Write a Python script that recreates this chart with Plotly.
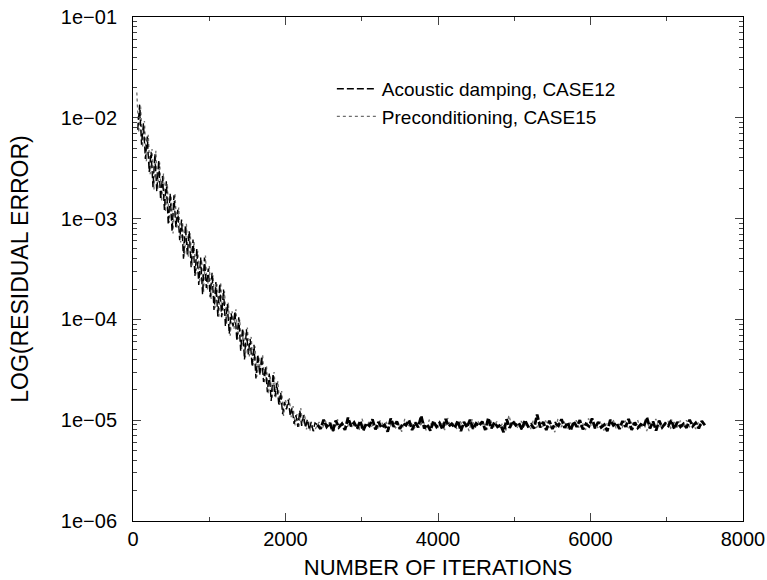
import numpy as np
import plotly.graph_objects as go

# ---------------- data ----------------
# decay phase, Preconditioning CASE15 (sampled every 25 iterations from 50)
pre_decay_start, pre_decay_step = 50, 25
pre_decay = [
    1.78e-2, 7.1e-3, 1.29e-2, 5.1e-3, 9.3e-3, 3.7e-3, 6.8e-3, 2.75e-3, 4.9e-3, 1.95e-3,
    4.7e-3, 1.95e-3, 3.6e-3, 1.48e-3, 2.8e-3, 1.17e-3, 2.24e-3, 9.1e-4, 1.70e-3, 7.1e-4,
    1.78e-3, 7.9e-4, 1.29e-3, 5.8e-4, 9.3e-4, 4.2e-4, 8.9e-4, 4.2e-4, 7.2e-4, 3.4e-4,
    5.9e-4, 2.8e-4, 4.8e-4, 2.3e-4, 3.9e-4, 1.86e-4, 4.3e-4, 1.95e-4, 3.4e-4, 1.59e-4,
    2.75e-4, 1.29e-4, 2.24e-4, 1.03e-4, 2.34e-4, 1.10e-4, 1.90e-4, 8.9e-5, 1.48e-4, 6.9e-5,
    1.20e-4, 8.1e-5, 1.26e-4, 6.4e-5, 1.0e-4, 5.1e-5, 7.9e-5, 4.2e-5, 8.3e-5, 4.3e-5,
    6.7e-5, 3.5e-5, 5.4e-5, 2.7e-5, 4.3e-5, 2.9e-5, 4.5e-5, 2.3e-5, 3.5e-5, 1.82e-5,
    2.8e-5, 1.62e-5, 3.0e-5, 1.66e-5, 2.45e-5, 1.38e-5, 1.95e-5, 1.10e-5, 1.58e-5, 1.32e-5,
    1.66e-5, 1.07e-5, 1.38e-5, 8.9e-6, 1.15e-5, 8.3e-6, 1.32e-5, 9.1e-6, 1.15e-5, 8.1e-6,
    1.0e-5, 7.9e-6, 8.9e-6, 7.7e-6,
]
# decay phase, Acoustic damping CASE12 (sampled every 25 iterations from 62)
ac_decay_start, ac_decay_step = 62, 25
ac_decay = [
    7.6e-3, 1.35e-2, 5.4e-3, 8.8e-3, 3.9e-3, 6.5e-3, 2.9e-3, 4.6e-3, 2.05e-3, 4.4e-3,
    1.85e-3, 3.8e-3, 1.55e-3, 2.65e-3, 1.22e-3, 2.35e-3, 8.7e-4, 1.78e-3, 7.4e-4, 1.70e-3,
    8.2e-4, 1.22e-3, 6.1e-4, 9.8e-4, 4.0e-4, 8.5e-4, 4.4e-4, 7.5e-4, 3.3e-4, 6.2e-4,
    2.7e-4, 5.0e-4, 2.2e-4, 4.1e-4, 1.78e-4, 4.1e-4, 2.05e-4, 3.2e-4, 1.66e-4, 2.9e-4,
    1.24e-4, 2.35e-4, 1.07e-4, 2.25e-4, 1.05e-4, 1.98e-4, 8.5e-5, 1.42e-4, 7.2e-5, 1.15e-4,
    8.5e-5, 1.20e-4, 6.1e-5, 1.05e-4, 4.9e-5, 8.2e-5, 4.0e-5, 8.0e-5, 4.5e-5, 6.4e-5,
    3.4e-5, 5.6e-5, 2.6e-5, 4.5e-5, 2.8e-5, 4.3e-5, 2.4e-5, 3.4e-5, 1.9e-5, 2.9e-5,
    1.55e-5, 2.9e-5, 1.72e-5, 2.35e-5, 1.42e-5, 1.88e-5, 1.15e-5, 1.52e-5, 1.28e-5, 1.60e-5,
    1.10e-5, 1.33e-5, 9.2e-6, 1.12e-5, 8.6e-6, 1.25e-5, 8.8e-6, 1.12e-5, 8.4e-6, 1.02e-5,
    8.0e-6, 9.6e-6, 7.8e-6, 9.4e-6,
]
# plateau phase (iterations 2400 .. 7500), residual in units of 1e-6
plateau_first, plateau_last = 2400, 7500
pre_plateau = [
    8.4, 9.6, 8.1, 9.9, 8.7, 9.3, 7.9, 10.2, 8.5, 9.4, 8.2, 9.8, 8.8, 9.1, 7.8, 10.4, 8.3, 9.7, 8.6, 9.2,
    8.0, 10.0, 8.9, 9.5, 8.1, 9.9, 8.4, 9.0, 7.7, 10.3, 8.6, 9.6, 8.2, 9.4, 8.8, 9.8, 7.9, 10.1, 8.5, 9.3,
    8.3, 9.7, 8.0, 10.5, 8.7, 9.2, 8.2, 9.9, 8.6, 9.5, 7.8, 10.2, 8.4, 9.6, 8.9, 9.1, 8.1, 10.0, 8.5, 9.7,
    8.3, 9.4, 7.9, 11.2, 8.6, 9.5, 8.2, 9.8, 8.8, 9.3, 8.0, 10.1, 8.4, 9.6, 8.7, 9.9, 8.1, 9.2, 7.6, 10.3,
    8.5, 9.7, 8.3, 9.4, 8.8, 10.0, 8.2, 9.5, 8.0, 10.4, 8.6, 9.3, 8.4, 9.8, 7.9, 9.6, 8.7, 10.2, 8.3, 9.1,
    8.5, 9.9, 8.1, 9.5, 8.8, 10.1, 8.2, 9.4, 7.8, 9.7, 8.6, 10.3, 8.4, 9.2, 8.9, 9.8, 8.0, 9.6, 8.5, 9.9,
    8.3, 10.0, 8.6, 9.4, 8.2, 9.7, 8.7, 9.3,
]
ac_plateau = [
    9.0, 8.2, 10.1, 8.6, 9.4, 7.8, 9.9, 8.5, 9.2, 8.0, 10.6, 8.7, 9.5, 8.3, 9.8, 7.9, 9.3, 8.8, 10.2, 8.1,
    9.6, 8.4, 9.0, 7.7, 10.4, 8.6, 9.7, 8.2, 9.3, 8.9, 10.0, 8.0, 9.5, 8.5, 11.0, 8.3, 9.1, 7.9, 9.8, 8.6,
    9.4, 8.1, 10.3, 8.7, 9.2, 8.4, 9.9, 7.8, 9.6, 8.5, 10.1, 8.2, 9.3, 8.8, 9.7, 8.0, 10.5, 8.3, 9.5, 8.6,
    9.0, 7.6, 10.2, 8.4, 9.8, 8.9, 9.4, 8.1, 10.0, 8.7, 9.1, 8.3, 11.4, 8.5, 9.6, 8.0, 9.9, 8.2, 9.3, 8.8,
    10.2, 8.4, 9.5, 7.9, 9.7, 8.6, 10.0, 8.1, 9.2, 8.7, 10.4, 8.3, 9.6, 8.5, 9.0, 7.8, 10.1, 8.9, 9.4, 8.2,
    9.8, 8.6, 10.3, 8.0, 9.5, 8.4, 9.1, 8.7, 10.6, 8.3, 9.7, 7.9, 9.9, 8.5, 9.3, 8.8, 10.0, 8.2, 9.6, 8.6,
    9.2, 8.4, 10.1, 8.7, 9.4, 8.3, 9.8, 8.9,
]
plateau_unit = 1e-6

x_ticks = [0, 2000, 4000, 6000, 8000]
y_tickvals = [1e-6, 1e-5, 1e-4, 1e-3, 1e-2, 1e-1]
y_ticktext = ["1e\u221206", "1e\u221205", "1e\u221204", "1e\u221203", "1e\u221202", "1e\u221201"]
names = ["Acoustic damping, CASE12", "Preconditioning, CASE15"]

# ---------------- build series ----------------
def decay_xy(start, step, decay):
    return [start + step * i for i in range(len(decay))], list(decay)

def plateau_xy(plateau, offset):
    xp = list(np.linspace(plateau_first + offset, plateau_last, len(plateau)))
    return xp, [v * plateau_unit for v in plateau]

FONT = "Liberation Sans, Arial, Helvetica, sans-serif"
GRAY = "#6e6e6e"

fig = go.Figure()
# Preconditioning (gray, dotted)
pdx, pdy = decay_xy(pre_decay_start, pre_decay_step, pre_decay)
ppx, ppy = plateau_xy(pre_plateau, 0)
fig.add_trace(go.Scatter(x=pdx + ppx, y=pdy + ppy, mode="lines", name=names[1],
                         legendrank=2, line=dict(color=GRAY, width=1.3, dash="dot")))
# Acoustic damping (black, dashed)
adx, ady = decay_xy(ac_decay_start, ac_decay_step, ac_decay)
apx, apy = plateau_xy(ac_plateau, 20)
fig.add_trace(go.Scatter(x=adx + apx[:1], y=ady + apy[:1], mode="lines", name=names[0],
                         legendgroup="ac", legendrank=1,
                         line=dict(color="black", width=1.4, dash="7px,3px")))
fig.add_trace(go.Scatter(x=apx, y=apy, mode="lines", name=names[0],
                         legendgroup="ac", showlegend=False,
                         line=dict(color="black", width=2.8, dash="7px,2px")))

minor_y = [m * 10.0 ** e for e in range(-6, -1) for m in range(2, 10)]

fig.update_layout(
    width=767, height=580,
    margin=dict(l=133, r=24, t=17, b=59),
    paper_bgcolor="white", plot_bgcolor="white",
    font=dict(family=FONT, size=20, color="black"),
    showlegend=True,
    legend=dict(x=0.326, y=0.895, xanchor="left", yanchor="top",
                bgcolor="rgba(0,0,0,0)", font=dict(size=19),
                itemwidth=40, tracegroupgap=0),
    xaxis=dict(range=[0, 8000], tickvals=x_ticks, ticks="inside", ticklen=8,
               showline=True, linecolor="black", linewidth=1, mirror="ticks",
               showgrid=False, zeroline=False, automargin=False,
               ticklabeloverflow="allow",
               minor=dict(tickvals=[1000, 3000, 5000, 7000], ticks="inside", ticklen=4),
               title=dict(text="NUMBER OF ITERATIONS", standoff=12,
                          font=dict(size=22))),
    yaxis=dict(type="log", range=[-6, -1], tickvals=y_tickvals, ticktext=y_ticktext,
               ticks="inside", ticklen=8, showline=True, linecolor="black",
               linewidth=1, mirror="ticks", showgrid=False, zeroline=False,
               automargin=False, ticklabelstandoff=11, ticklabeloverflow="allow",
               minor=dict(tickvals=minor_y, ticks="inside", ticklen=4),
               title=dict(text="LOG(RESIDUAL ERROR)", standoff=25,
                          font=dict(size=23))),
)

# remove the browser's default 8px page margin so the figure fills the window
fig.write_html("out.html", config={"displayModeBar": False},
               post_script="document.body.style.margin='0';")
